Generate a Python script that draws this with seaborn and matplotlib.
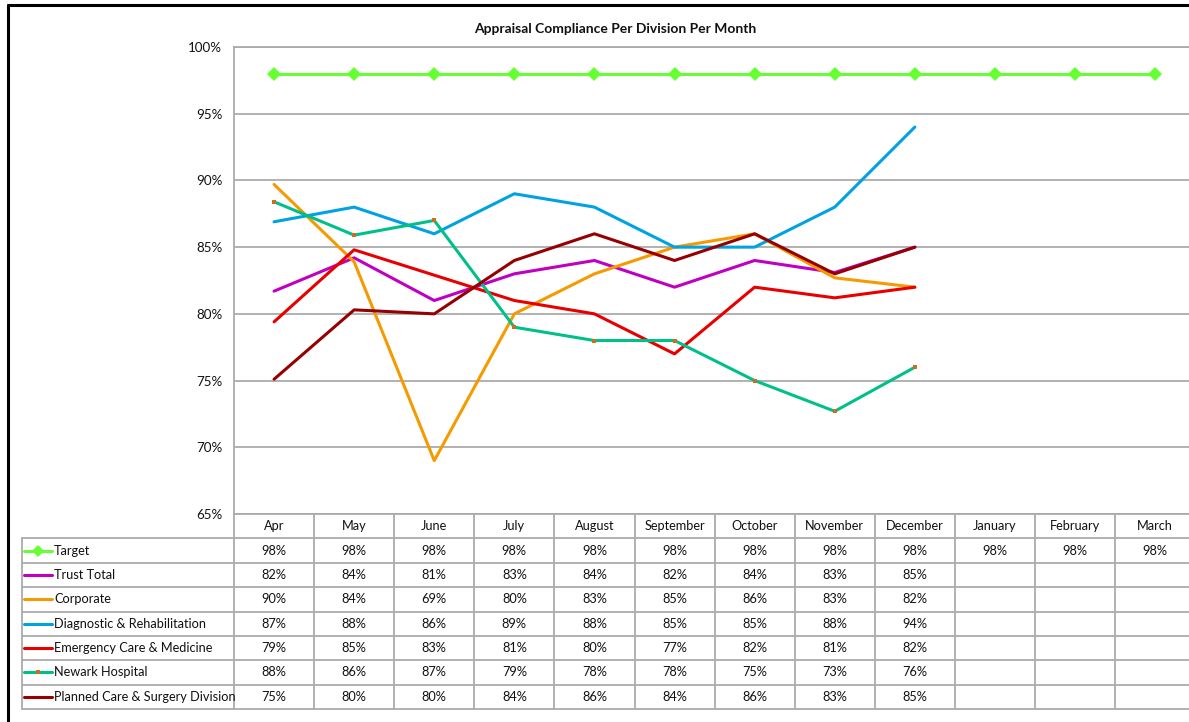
import matplotlib
matplotlib.use("Agg")
import matplotlib.pyplot as plt
from matplotlib.lines import Line2D
import seaborn as sns
import pandas as pd

months = ["Apr", "May", "June", "July", "August", "September", "October",
          "November", "December", "January", "February", "March"]
target = [98, 98, 98, 98, 98, 98, 98, 98, 98, 98, 98, 98]
trust_total = [81.7, 84.2, 81.0, 83.0, 84.0, 82.0, 84.0, 83.1, 85.0]
corporate = [89.7, 83.9, 69.0, 80.0, 83.0, 85.0, 86.0, 82.7, 82.0]
diagnostic = [86.9, 88.0, 86.0, 89.0, 88.0, 85.0, 85.0, 88.0, 94.0]
emergency = [79.4, 84.8, 82.9, 81.0, 80.0, 77.0, 82.0, 81.2, 82.0]
newark = [88.4, 85.9, 87.0, 79.0, 78.0, 78.0, 75.0, 72.7, 76.0]
planned = [75.1, 80.3, 80.0, 84.0, 86.0, 84.0, 86.0, 83.0, 85.0]

series_names = ["Target", "Trust Total", "Corporate", "Diagnostic & Rehabilitation",
                "Emergency Care & Medicine", "Newark Hospital",
                "Planned Care & Surgery Division"]
series_values = [target, trust_total, corporate, diagnostic, emergency, newark, planned]
colors = ["#66FF33", "#C000C0", "#F59A00", "#00A2E2", "#E80000", "#00C08A", "#960000"]
y_ticks = [65, 70, 75, 80, 85, 90, 95, 100]
title = "Appraisal Compliance Per Division Per Month"

sns.set_style("white")
plt.rcParams["font.family"] = ["Lato", "DejaVu Sans"]

W, H = 1189, 722
fig = plt.figure(figsize=(W / 100, H / 100), dpi=100)

# geometry (pixels)
ax_left, col_w = 234, 80.1
ax_top, ax_bottom = 47, 514
tab_bottom = 709
ncols = len(months)
txt_c = "#111111"
fs = 9.2

ax = fig.add_axes([ax_left / W, 1 - ax_bottom / H, ncols * col_w / W, (ax_bottom - ax_top) / H])

grid_c = "#ABABAB"
for name, vals, c in zip(series_names, series_values, colors):
    df = pd.DataFrame({"x": list(range(len(vals))), "y": vals})
    if name == "Target":
        sns.lineplot(data=df, x="x", y="y", ax=ax, color=c, lw=2.2, marker="D",
                     markersize=7, markeredgewidth=0, zorder=3)
    elif name == "Newark Hospital":
        sns.lineplot(data=df, x="x", y="y", ax=ax, color=c, lw=2.2, marker="s",
                     markersize=3.5, markerfacecolor="#C87020", markeredgewidth=0, zorder=3)
    else:
        sns.lineplot(data=df, x="x", y="y", ax=ax, color=c, lw=2.2, zorder=3)

ax.set_xlim(-0.5, ncols - 0.5)
ax.set_ylim(65, 100)
ax.set_yticks(y_ticks)
ax.set_yticklabels([f"{t}%" for t in y_ticks], fontsize=9.6, color=txt_c)
ax.set_xticks([])
ax.set_xlabel("")
ax.set_ylabel("")
ax.tick_params(axis="y", length=0, pad=8.5)
for yv in y_ticks:
    ax.axhline(yv, color=grid_c, lw=1.3, zorder=1)
for s in ["left", "top", "bottom"]:
    ax.spines[s].set_color(grid_c)
    ax.spines[s].set_linewidth(1.3)
ax.spines["right"].set_visible(False)

# data table
tab = fig.add_axes([ax_left / W, 1 - tab_bottom / H, ncols * col_w / W, (tab_bottom - ax_bottom) / H])
tab.set_xlim(-0.5, ncols - 0.5)
nrows = len(series_names) + 1
tab.set_ylim(nrows, 0)
tab.axis("off")

def px2x(px):
    return -0.5 + (px - ax_left) / col_w

lab_left = px2x(22)
for r in range(1, nrows + 1):
    tab.plot([lab_left, ncols - 0.5], [r, r], color=grid_c, lw=1.3, clip_on=False)
for k in range(ncols + 1):
    tab.plot([k - 0.5, k - 0.5], [0, nrows], color=grid_c, lw=1.3, clip_on=False)
tab.plot([lab_left, lab_left], [1, nrows], color=grid_c, lw=1.3, clip_on=False)

for i, m in enumerate(months):
    tab.text(i, 0.5, m, ha="center", va="center", fontsize=fs, color=txt_c)

k0, k1 = px2x(24), px2x(52)
for r, (name, vals, c) in enumerate(zip(series_names, series_values, colors), start=1):
    tab.plot([k0, k1], [r + 0.5, r + 0.5], color=c, lw=2.2, clip_on=False)
    if name == "Target":
        tab.plot([(k0 + k1) / 2], [r + 0.5], marker="D", color=c, markersize=6,
                 markeredgewidth=0, clip_on=False)
    if name == "Newark Hospital":
        tab.plot([(k0 + k1) / 2], [r + 0.5], marker="s", color="#C87020", markersize=3,
                 markeredgewidth=0, clip_on=False)
    tab.text(px2x(54), r + 0.5, name, ha="left", va="center", fontsize=fs, color=txt_c)
    for i, v in enumerate(vals):
        tab.text(i, r + 0.5, f"{round(v)}%", ha="center", va="center", fontsize=fs,
                 color=txt_c)

fig.text(615 / W, 1 - 29 / H, title, ha="center", va="center", fontsize=10,
         fontweight="bold", color=txt_c)

# outer black frame (top and left visible)
fig.add_artist(Line2D([8 / W, 1], [1 - 5 / H, 1 - 5 / H], color="black", lw=2.2,
                      transform=fig.transFigure))
fig.add_artist(Line2D([8 / W, 8 / W], [0, 1 - 5 / H], color="black", lw=2.2,
                      transform=fig.transFigure))

fig.savefig("out.png", dpi=100)
